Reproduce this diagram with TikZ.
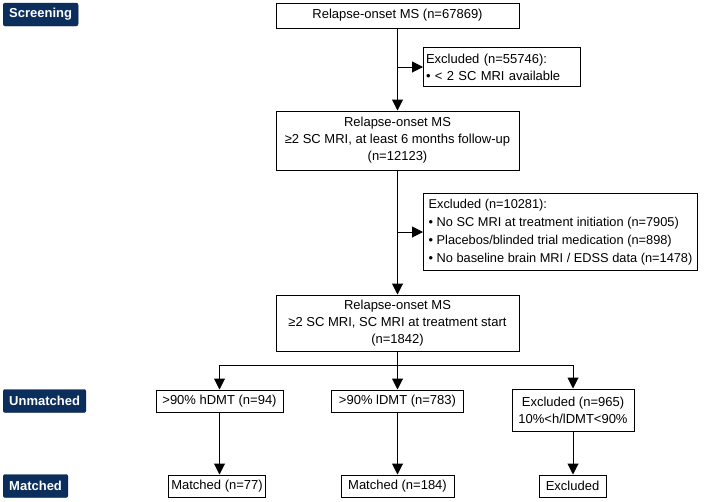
\documentclass[tikz,border=0pt]{standalone}
\usepackage{fontspec}
\setmainfont{Liberation Sans}
\usetikzlibrary{arrows.meta}
\definecolor{navy}{RGB}{12,46,92}

\begin{document}
\begin{tikzpicture}[x=1pt,y=-1pt,
  box/.style={draw,line width=1pt,inner sep=3pt,align=center,font=\fontsize{13}{17}\selectfont},
  stage/.style={fill=navy,draw=navy!70!black,rounded corners=2pt,text=white,font=\bfseries\fontsize{13}{14}\selectfont,inner xsep=6pt,inner ysep=0pt,minimum height=23pt,anchor=west},
  arr/.style={line width=1pt,-{Triangle[length=11pt,width=11pt]}}]
  \useasboundingbox (0,0) rectangle (708,501);

  % stage labels
  \node[stage] (lab screen) at (3,14.5) {Screening};
  \node[stage] (lab unmatched) at (3,401) {Unmatched};
  \node[stage] (lab matched) at (3,486) {Matched};

  % main column
  \node[box,minimum width=243pt,minimum height=25pt] (ms all) at (397.5,15.5) {Relapse-onset MS (n=67869)};
  \node[box,minimum width=243pt,minimum height=59pt] (ms sc) at (397.5,140.5) {Relapse-onset MS\\≥2 SC MRI, at least 6 months follow-up\\(n=12123)};
  \node[box,minimum width=243pt,minimum height=56pt] (ms start) at (397.5,323) {Relapse-onset MS\\≥2 SC MRI, SC MRI at treatment start\\(n=1842)};

  % exclusions
  \node[box,anchor=north west,text width=152pt,inner xsep=2.5pt,align=left,minimum height=39pt] (excl screen) at (423,47) {Excluded (n=55746):\\• < 2 SC MRI available};
  \node[box,anchor=north west,align=left,minimum width=274pt,minimum height=77pt,inner xsep=2pt,font=\fontsize{12.8}{18}\selectfont] (excl trial) at (423,193) {Excluded (n=10281):\\• No SC MRI at treatment initiation (n=7905)\\• Placebos/blinded trial medication (n=898)\\• No baseline brain MRI / EDSS data (n=1478)};

  % unmatched row
  \node[box,minimum width=127pt,minimum height=22pt] (hdmt) at (219.5,401) {>90\% hDMT (n=94)};
  \node[box,minimum width=132pt,minimum height=22pt] (ldmt) at (397.5,401) {>90\% lDMT (n=783)};
  \node[box,minimum width=122pt,minimum height=42pt] (excl mix) at (573,410) {Excluded (n=965)\\10\%<h/lDMT<90\%};

  % matched row
  \node[box,minimum width=97pt,minimum height=22pt] (m hdmt) at (217,486) {Matched (n=77)};
  \node[box,minimum width=113pt,minimum height=22pt] (m ldmt) at (397.5,486) {Matched (n=184)};
  \node[box,minimum width=67pt,minimum height=22pt] (m excl) at (572.5,486) {Excluded};

  \coordinate (split) at (397.5,365);

  \draw[arr] (ms all) -- (ms sc);
  \draw[arr] (ms all.south |- excl screen.west) -- (excl screen.west);
  \draw[arr] (ms sc) -- (ms start);
  \draw[arr] (ms sc.south |- excl trial.west) -- (excl trial.west);
  \draw[line width=1pt] (ms start.south) -- (split);
  \draw[arr] (split) -| (hdmt.north);
  \draw[arr] (split) -- (ldmt.north);
  \draw[arr] (split) -| (excl mix.north);
  \draw[arr] (hdmt.south) -- (hdmt.south |- m hdmt.north);
  \draw[arr] (ldmt.south) -- (m ldmt.north);
  \draw[arr] (excl mix.south) -- (excl mix.south |- m excl.north);
\end{tikzpicture}
\end{document}
